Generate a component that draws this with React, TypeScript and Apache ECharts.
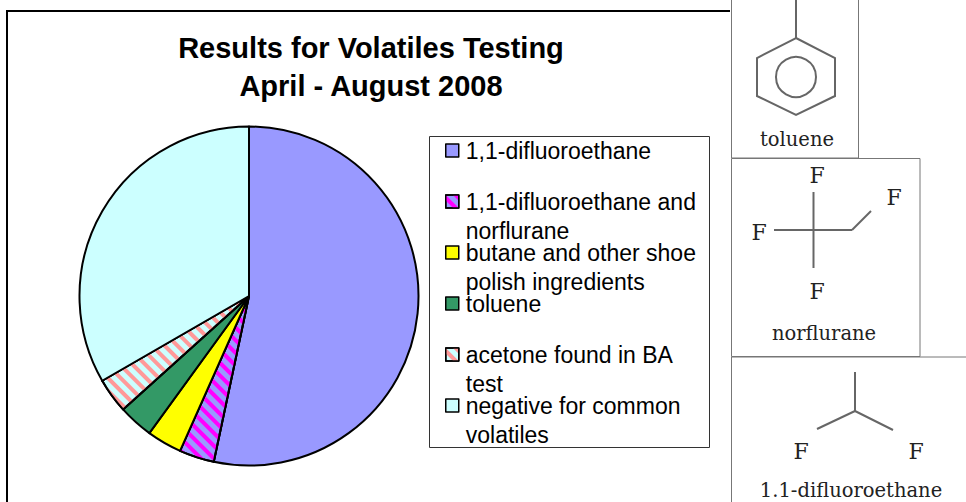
import React, { useEffect, useRef } from "react";
import * as echarts from "echarts";

const titleLines = ["Results for Volatiles Testing", "April - August 2008"];
const categories = [
  "1,1-difluoroethane",
  "1,1-difluoroethane and norflurane",
  "butane and other shoe polish ingredients",
  "toluene",
  "acetone found in BA test",
  "negative for common volatiles",
];
const legendLines: Record<string, string[]> = {
  "1,1-difluoroethane": ["1,1-difluoroethane", ""],
  "1,1-difluoroethane and norflurane": ["1,1-difluoroethane and", "norflurane"],
  "butane and other shoe polish ingredients": ["butane and other shoe", "polish ingredients"],
  toluene: ["toluene", ""],
  "acetone found in BA test": ["acetone found in BA", "test"],
  "negative for common volatiles": ["negative for common", "volatiles"],
};
const values = [16, 1, 1, 1, 1, 10];
const colors = ["#9999ff", "#9999ff", "#ffff00", "#339966", "#ccffff", "#ccffff"];
const stripes: (string | null)[] = [null, "#ff00ff", null, null, "#ff9999", null];

const SANS = '"Liberation Sans", Arial, sans-serif';
const SERIF = '"DejaVu Serif", serif';
const INK = "#666666";

const bond = (x1: number, y1: number, x2: number, y2: number) => ({
  type: "line",
  z: 11,
  shape: { x1, y1, x2, y2 },
  style: { stroke: INK, lineWidth: 2 },
});
const panel = (x: number, y: number, width: number, height: number) => ({
  type: "rect",
  z: 10,
  shape: { x, y, width, height },
  style: { fill: "#ffffff", stroke: "#777777", lineWidth: 1 },
});
const label = (text: string, x: number, y: number, size: number) => ({
  type: "text",
  z: 11,
  x,
  y,
  style: {
    text,
    font: `${size}px ${SERIF}`,
    fill: "#222222",
    textAlign: "center",
    textVerticalAlign: "middle",
  },
});

export default function App() {
  const ref = useRef<HTMLDivElement>(null);
  useEffect(() => {
    const chart = echarts.init(ref.current!, null, { renderer: "svg" });
    chart.setOption({
      animation: false,
      backgroundColor: "#ffffff",
      title: {
        text: titleLines.join("\n"),
        left: 366,
        top: 24,
        textAlign: "center",
        textStyle: {
          fontFamily: SANS,
          fontWeight: "bold",
          fontSize: 29,
          lineHeight: 38,
          color: "#000000",
        },
      },
      legend: {
        orient: "vertical",
        left: 445,
        top: 107,
        padding: 0,
        itemGap: -36,
        itemWidth: 13,
        itemHeight: 13,
        icon: "rect",
        selectedMode: false,
        data: categories,
        formatter: (name: string) => {
          const [a, b] = legendLines[name];
          return `\n${a}\n${b}`;
        },
        itemStyle: { borderColor: "#000000", borderWidth: 1.5 },
        textStyle: {
          fontFamily: SANS,
          fontSize: 23,
          lineHeight: 29,
          color: "#000000",
          padding: [0, 0, 0, 2],
        },
      },
      series: [
        {
          type: "pie",
          center: [249, 296],
          radius: [0, 169.5],
          startAngle: 90,
          clockwise: true,
          avoidLabelOverlap: false,
          label: { show: false },
          labelLine: { show: false },
          emphasis: { disabled: true },
          data: categories.map((name, i) => ({
            name,
            value: values[i],
            itemStyle: {
              color: colors[i],
              borderColor: "#000000",
              borderWidth: 2,
              decal: stripes[i]
                ? {
                    symbol: "rect",
                    color: stripes[i],
                    dashArrayX: [1, 0],
                    dashArrayY: [3.5, 5],
                    rotation: Math.PI / 4,
                  }
                : "none",
            },
          })),
        },
      ],
      graphic: [
        {
          type: "rect",
          z: 0,
          shape: { x: 7, y: 11, width: 800, height: 520 },
          style: { fill: "#ffffff", stroke: "#000000", lineWidth: 2 },
        },
        {
          type: "rect",
          z: 1,
          shape: { x: 429.5, y: 136.5, width: 280, height: 311 },
          style: { fill: "#ffffff", stroke: "#333333", lineWidth: 1 },
        },
        { type: "rect", z: 9, shape: { x: 730, y: 0, width: 236, height: 502 }, style: { fill: "#ffffff" } },
        panel(731.5, -5, 127, 163),
        panel(731.5, 158.5, 188.5, 198),
        panel(731.5, 357, 240, 160),
        bond(796, 0, 796, 38),
        {
          type: "polygon",
          z: 11,
          shape: { points: [[796, 38], [835, 58], [835, 96], [796, 115], [757, 96], [757, 58]] },
          style: { fill: "none", stroke: INK, lineWidth: 2 },
        },
        {
          type: "circle",
          z: 11,
          shape: { cx: 796, cy: 77, r: 20 },
          style: { fill: "none", stroke: INK, lineWidth: 2 },
        },
        label("toluene", 797, 139, 19.5),
        bond(813.5, 192, 813.5, 268),
        bond(774, 230, 852, 230),
        bond(852, 230, 871, 211),
        label("F", 817, 175, 22),
        label("F", 894, 197, 22),
        label("F", 759, 232, 22),
        label("F", 817, 291, 22),
        label("norflurane", 824, 333, 19.5),
        bond(855, 372, 855, 411),
        bond(855, 411, 817, 429),
        bond(855, 411, 893, 430),
        label("F", 801, 451, 22),
        label("F", 916, 451, 22),
        label("1.1-difluoroethane", 851, 490, 19.5),
      ],
    });
    return () => chart.dispose();
  }, []);
  return (
    <div
      ref={ref}
      style={{ position: "fixed", left: 0, top: 0, width: 966, height: 502, background: "#fff" }}
    />
  );
}
